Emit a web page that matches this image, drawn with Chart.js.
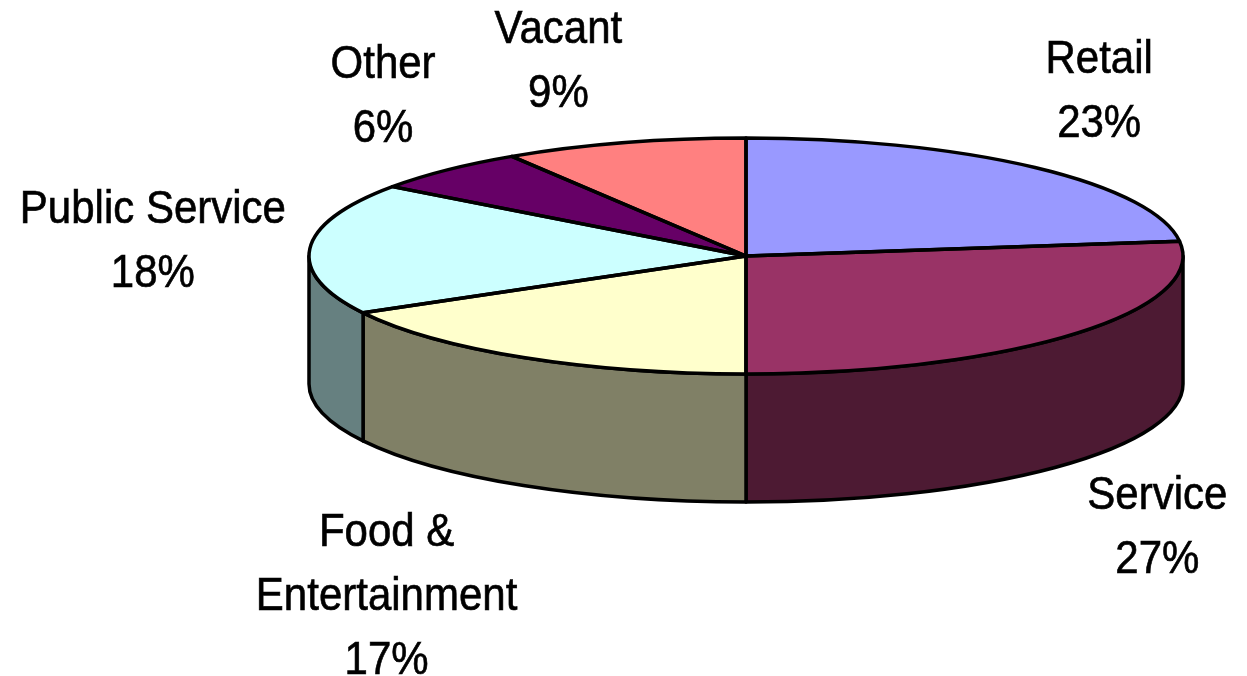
<!DOCTYPE html>
<html>
<head>
<meta charset="utf-8">
<title>Space use by category</title>
<script src="https://cdn.jsdelivr.net/npm/chart.js@4.4.0/dist/chart.umd.min.js"></script>
<style>
  html, body { margin: 0; padding: 0; background: #fff; }
  #chart-wrap { width: 1247px; height: 676px; }
</style>
</head>
<body>
<div id="chart-wrap"><canvas id="chart-pie" width="1247" height="676"></canvas></div>
<script>
// Data
const categories = ['Retail', 'Service', 'Food & Entertainment', 'Public Service', 'Other', 'Vacant'];
const labelLines = [['Retail'], ['Service'], ['Food &', 'Entertainment'], ['Public Service'], ['Other'], ['Vacant']];
const shares = [23, 27, 17, 18, 6, 9];
const sliceColors = ['#9999FF', '#993366', '#FFFFCC', '#CCFFFF', '#660066', '#FF8080'];

// tilted pie geometry (top face ellipse + wall height)
const PIE = { cx: 746, cy: 256, rx: 437, ry: 118, depth: 128 };
const LBL = { gapX: 24, gapY: 30, line: 64, font: 42, stretch: 1.1 };

// 50% darker shade for the walls
function shade(hex) {
    const n = parseInt(hex.slice(1), 16);
    const r = (n >> 16) & 255, g = (n >> 8) & 255, b = n & 255;
    return `rgb(${Math.round(r / 2)},${Math.round(g / 2)},${Math.round(b / 2)})`;
}

const pie3d = {
    id: 'pie3d',
    beforeDatasetsDraw(chart) {
        const ctx = chart.ctx;
        const arcs = chart.getDatasetMeta(0).data;

        // walls, front half only (0..PI)
        ctx.save();
        ctx.lineWidth = 3.5;
        ctx.lineJoin = 'round';
        ctx.strokeStyle = '#000';
        arcs.forEach((arc, i) => {
            const a = Math.max(arc.startAngle, 0);
            const b = Math.min(arc.endAngle, Math.PI);
            if (a >= b) return;
            ctx.beginPath();
            ctx.ellipse(PIE.cx, PIE.cy, PIE.rx, PIE.ry, 0, a, b);
            ctx.ellipse(PIE.cx, PIE.cy + PIE.depth, PIE.rx, PIE.ry, 0, b, a, true);
            ctx.closePath();
            ctx.fillStyle = shade(sliceColors[i]);
            ctx.fill();
            ctx.stroke();
        });
        ctx.restore();

        // squash the flat pie onto the top face
        const r = arcs[0].outerRadius;
        ctx.save();
        ctx.translate(PIE.cx, PIE.cy);
        ctx.scale(PIE.rx / r, PIE.ry / r);
        ctx.translate(-arcs[0].x, -arcs[0].y);
    },
    afterDatasetsDraw(chart) {
        const ctx = chart.ctx;
        ctx.restore();
        const arcs = chart.getDatasetMeta(0).data;

        // outlines of the top face
        ctx.save();
        ctx.lineWidth = 3.5;
        ctx.lineJoin = 'round';
        ctx.strokeStyle = '#000';
        arcs.forEach(arc => {
            ctx.beginPath();
            ctx.moveTo(PIE.cx, PIE.cy);
            ctx.ellipse(PIE.cx, PIE.cy, PIE.rx, PIE.ry, 0, arc.startAngle, arc.endAngle);
            ctx.closePath();
            ctx.stroke();
        });
        ctx.restore();
    },
    afterDraw(chart) {
        const ctx = chart.ctx;
        const arcs = chart.getDatasetMeta(0).data;
        const total = shares.reduce((s, v) => s + v, 0);

        ctx.save();
        ctx.font = `${LBL.font}px "Liberation Sans", Arial, sans-serif`;
        ctx.fillStyle = '#000';
        ctx.strokeStyle = '#000';
        ctx.lineWidth = 0.6;
        ctx.textAlign = 'center';
        ctx.textBaseline = 'middle';
        arcs.forEach((arc, i) => {
            const lines = [...labelLines[i], Math.round(shares[i] / total * 100) + '%'];
            const w = Math.max(...lines.map(t => ctx.measureText(t).width));
            const h = (lines.length - 1) * LBL.line + 36;
            const mid = (arc.startAngle + arc.endAngle) / 2;
            const c = Math.cos(mid), s = Math.sin(mid);
            // point on the rim (bottom rim for the front half)
            const ex = PIE.cx + PIE.rx * c;
            const ey = PIE.cy + PIE.ry * s + (s > 0 ? PIE.depth : 0);
            const t = Math.min(1, Math.abs(s) / 0.8);
            const x = ex + Math.sign(c) * (w / 2 + LBL.gapX * c * c);
            const y = ey + Math.sign(s) * t * (h / 2 + LBL.gapY);
            lines.forEach((txt, k) => {
                const ly = y - (lines.length - 1) * LBL.line / 2 + k * LBL.line;
                ctx.save();
                ctx.translate(x, ly);
                ctx.scale(1, LBL.stretch);
                ctx.fillText(txt, 0, 0);
                ctx.strokeText(txt, 0, 0);
                ctx.restore();
            });
        });
        ctx.restore();
    }
};

new Chart(document.getElementById('chart-pie'), {
    type: 'pie',
    data: {
        labels: categories,
        datasets: [{ data: shares, backgroundColor: sliceColors, borderWidth: 0, clip: false }]
    },
    options: {
        responsive: false,
        devicePixelRatio: 1,
        animation: false,
        events: [],
        layout: { padding: 0 },
        plugins: { legend: { display: false }, tooltip: { enabled: false } }
    },
    plugins: [pie3d]
});
</script>
</body>
</html>
